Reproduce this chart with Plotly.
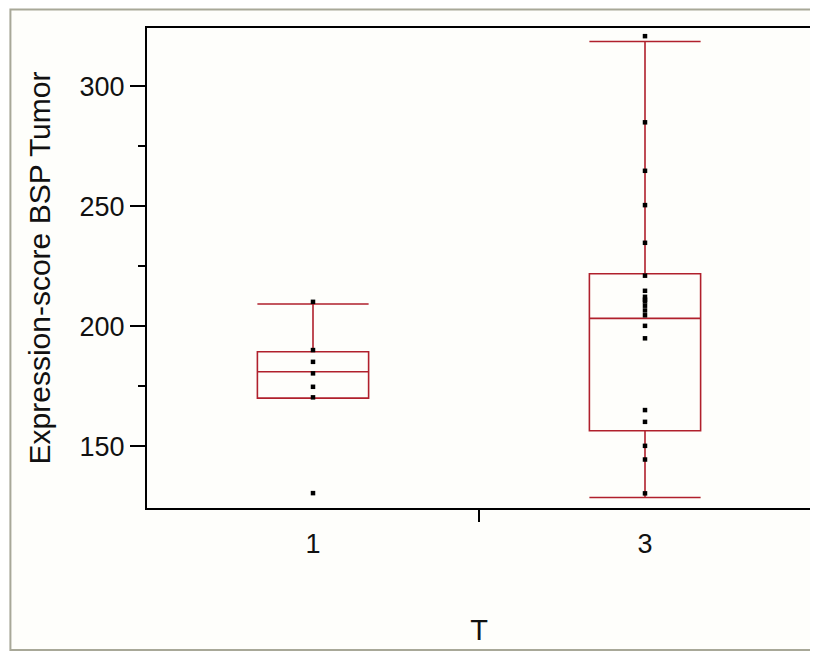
import plotly.graph_objects as go

# ---- data ----
categories = [1, 3]
category_labels = ["1", "3"]

t1_values = [130.4, 170.3, 174.7, 180.3, 185.1, 190.0, 210.1]
t3_values = [130.3, 144.4, 150.1, 160.1, 165.0, 194.9, 200.1, 204.5, 206.5,
             208.5, 210.3, 211.0, 212.2, 214.7, 221.0, 234.7, 250.4, 264.7,
             284.9, 320.8]

box_q1 = [170.0, 156.4]
box_median = [181.0, 203.2]
box_q3 = [189.3, 221.8]
box_lower = [170.0, 128.6]
box_upper = [209.2, 318.6]

y_ticks = [150, 200, 250, 300]
y_minor_ticks = [175, 225, 275]

RED = "#B0202C"
FONT = "Liberation Sans, Arial, sans-serif"

fig = go.Figure()

fig.add_trace(go.Box(
    x=categories,
    q1=box_q1, median=box_median, q3=box_q3,
    lowerfence=box_lower, upperfence=box_upper,
    width=0.67, whiskerwidth=1,
    line=dict(color=RED, width=1.6),
    fillcolor="rgba(0,0,0,0)",
    boxpoints=False, showlegend=False, hoverinfo="skip",
))

fig.add_trace(go.Scatter(
    x=[categories[0]] * len(t1_values) + [categories[1]] * len(t3_values),
    y=t1_values + t3_values,
    mode="markers",
    marker=dict(symbol="square", size=4.5, color="black"),
    showlegend=False,
))

# page has an 8px body margin; work in figure pixel coords
OFF = 8
FW, FH = 818 - OFF, 660 - OFF
L, R, T, B = 147 - OFF, 813 - OFF, 28 - OFF, 508 - OFF
W, H = R - L, B - T
def px(xp):
    return (xp - OFF - L) / W
def py(yp):
    return (B - (yp - OFF)) / H

fig.update_layout(
    width=FW, height=FH,
    margin=dict(l=L, r=FW - R, t=T, b=FH - B, pad=0),
    paper_bgcolor="white",
    plot_bgcolor="#FFFFFF",
    font=dict(family=FONT, size=27, color="#111111"),
    shapes=[dict(type="rect", xref="paper", yref="paper",
                 x0=px(10), x1=px(840), y0=py(650), y1=py(9.5),
                 line=dict(color="#A8A898", width=2),
                 fillcolor="#FEFEFB", layer="below")],
)

fig.update_xaxes(
    range=[0, 4], tickmode="array", tickvals=categories, ticktext=category_labels,
    ticks="outside", ticklen=11, tickcolor="rgba(0,0,0,0)",
    minor=dict(tickmode="array", tickvals=[2, 4], ticks="outside",
               ticklen=12, tickwidth=2, tickcolor="black"),
    showline=True, linecolor="black", linewidth=2, mirror=True,
    showgrid=False, zeroline=False,
    title=dict(text="T", font=dict(size=29), standoff=61),
)
fig.update_yaxes(
    range=[124.2, 324.2], tickmode="array", tickvals=y_ticks,
    ticks="outside", ticklen=15, tickwidth=2, tickcolor="black",
    minor=dict(tickmode="array", tickvals=y_minor_ticks, ticks="outside",
               ticklen=7, tickwidth=2, tickcolor="black"),
    showline=True, linecolor="black", linewidth=2, mirror=True,
    showgrid=False, zeroline=False,
    title=dict(text="Expression-score BSP Tumor", font=dict(size=30), standoff=20),
)

fig.write_html("out.html")
